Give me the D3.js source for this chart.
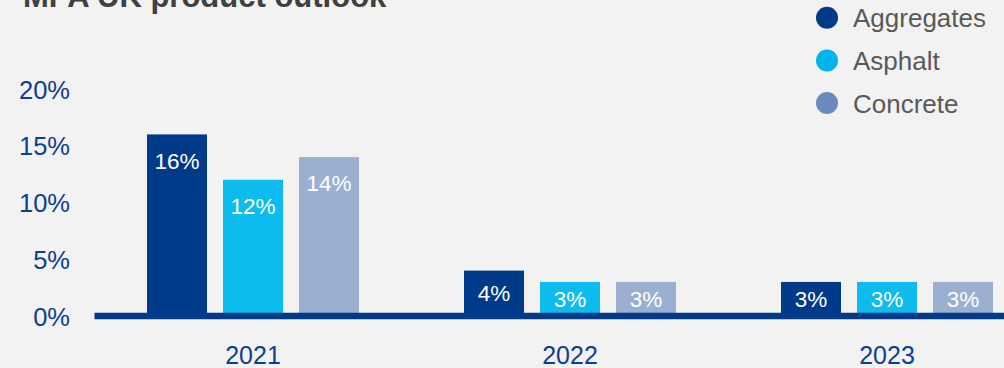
<!DOCTYPE html>
<html>
<head>
<meta charset="utf-8">
<script src="https://cdn.jsdelivr.net/npm/d3@7"></script>
<style>
  html, body { margin: 0; padding: 0; background: #f2f2f2; }
  svg { display: block; font-family: "Liberation Sans", Arial, sans-serif; }
</style>
</head>
<body>
<svg id="chart" width="1004" height="368"></svg>
<script>
// Chart data
const years = ["2021", "2022", "2023"];
const products = ["Aggregates", "Asphalt", "Concrete"];
const aggregates = [16, 4, 3];
const asphalt = [12, 3, 3];
const concrete = [14, 3, 3];
const yTicks = [0, 5, 10, 15, 20];

const seriesValues = { Aggregates: aggregates, Asphalt: asphalt, Concrete: concrete };
const barColor = { Aggregates: "#003a88", Asphalt: "#0dbcee", Concrete: "#9bb0d1" };
const legendColor = { Aggregates: "#003a88", Asphalt: "#00b2ee", Concrete: "#6a8bbf" };

const svg = d3.select("#chart");
const W = 1004, H = 368;

svg.append("rect").attr("width", W).attr("height", H).attr("fill", "#f2f2f2");

// Scales
const y = d3.scaleLinear().domain([0, 20]).range([316, 89]);
const x0 = d3.scaleBand().domain(years).range([94.5, 1045.5]).padding(0);
const x1 = d3.scaleBand().domain(products).range([0, x0.bandwidth()])
  .paddingInner(16 / 76).paddingOuter(52.5 / 76);

// Title
svg.append("text")
  .attr("x", 23).attr("y", 7)
  .attr("font-size", 31).attr("font-weight", "bold")
  .attr("fill", "#404040")
  .text("MPA UK product outlook");

// Y axis labels
const yAxis = d3.axisLeft(y).tickValues(yTicks).tickFormat(d => d + "%").tickSize(0).tickPadding(0);
const yg = svg.append("g").attr("transform", "translate(70,0)").call(yAxis);
yg.select(".domain").remove();
yg.selectAll("text")
  .attr("font-size", 25.5)
  .attr("font-family", "Liberation Sans, Arial, sans-serif")
  .attr("fill", "#0b3f91")
  .attr("dy", "0.36em");

// Bars
const rows = [];
years.forEach((yr, i) => {
  products.forEach(p => rows.push({ year: yr, product: p, value: seriesValues[p][i] }));
});

const bars = svg.append("g");
bars.selectAll("rect").data(rows).enter().append("rect")
  .attr("x", d => x0(d.year) + x1(d.product))
  .attr("y", d => y(d.value))
  .attr("width", x1.bandwidth())
  .attr("height", d => y(0) - y(d.value))
  .attr("fill", d => barColor[d.product]);

// Value labels inside bars
bars.selectAll("text").data(rows).enter().append("text")
  .attr("x", d => x0(d.year) + x1(d.product) + x1.bandwidth() / 2)
  .attr("y", d => {
    const top = y(d.value);
    return Math.min(top + 26, (top + y(0)) / 2);
  })
  .attr("dy", "0.36em")
  .attr("text-anchor", "middle")
  .attr("font-size", 22.5)
  .attr("fill", "#ffffff")
  .text(d => d.value + "%");

// X axis baseline
svg.append("line")
  .attr("x1", x0.range()[0]).attr("x2", W)
  .attr("y1", y(0)).attr("y2", y(0))
  .attr("stroke", "#003a88").attr("stroke-width", 6.5);

// X axis labels
const xAxis = d3.axisBottom(x0).tickSize(0).tickPadding(0);
const xg = svg.append("g").attr("transform", "translate(0,364)").call(xAxis);
xg.select(".domain").remove();
xg.selectAll("text")
  .attr("font-size", 25)
  .attr("font-family", "Liberation Sans, Arial, sans-serif")
  .attr("fill", "#0b3f91")
  .attr("dy", 0);

// Legend
const legendBase = [27.3, 70, 112.5];
const legend = svg.append("g");
products.forEach((p, i) => {
  legend.append("circle")
    .attr("cx", 827).attr("cy", legendBase[i] - 9.5).attr("r", 11)
    .attr("fill", legendColor[p]);
  legend.append("text")
    .attr("x", 853).attr("y", legendBase[i])
    .attr("font-size", 26).attr("fill", "#595959")
    .text(p);
});
</script>
</body>
</html>
